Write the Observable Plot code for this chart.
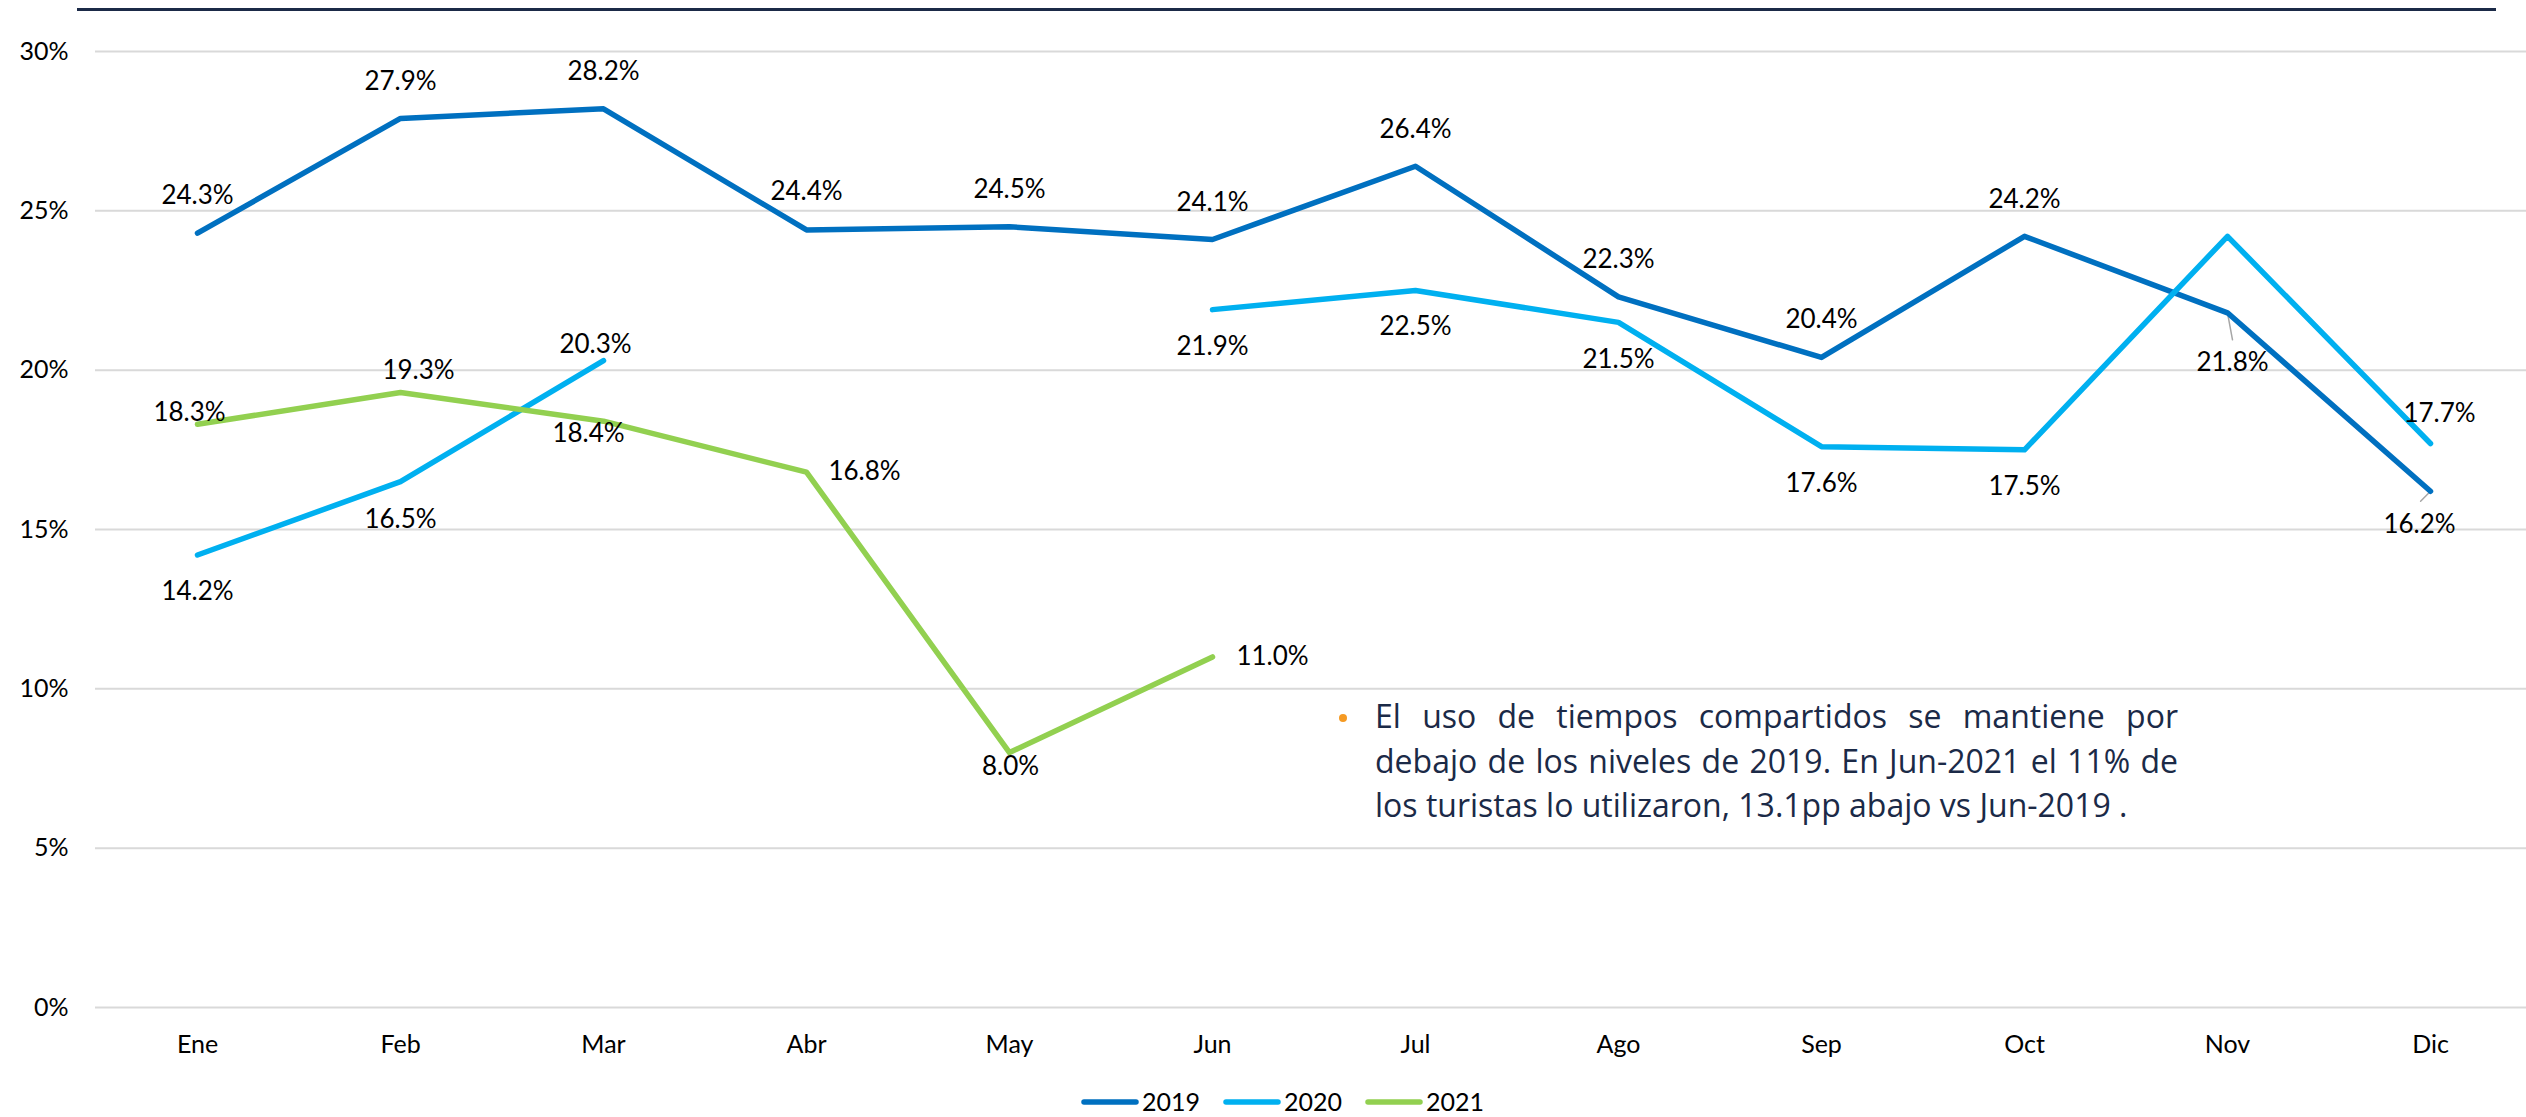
<!DOCTYPE html>
<html>
<head>
<meta charset="utf-8">
<script src="https://cdn.jsdelivr.net/npm/d3@7"></script>
<script src="https://cdn.jsdelivr.net/npm/@observablehq/plot@0.6"></script>
<style>
  html, body { margin: 0; padding: 0; background: #fff; }
  #wrap { position: relative; width: 2526px; height: 1117px; overflow: hidden; font-family: Lato, sans-serif; }
  #topline { position: absolute; left: 77px; top: 8px; width: 2419px; height: 3px; background: #1b2a47; }
  #chart { position: absolute; left: 0; top: 0; }
  #note { position: absolute; left: 1375px; top: 694px; width: 803px; font-family: "Open Sans", sans-serif; font-size: 32px; line-height: 44.5px; color: #1b2a47; }
  #note .j { text-align: justify; text-align-last: justify; }
  #bullet { position: absolute; left: 1339px; top: 714px; width: 8px; height: 8px; border-radius: 50%; background: #F59A23; }
  #legend { position: absolute; left: 0; top: 1080px; }
</style>
</head>
<body>
<div id="wrap">
  <div id="topline"></div>
  <div id="chart"></div>
  <div id="bullet"></div>
  <div id="note"></div>
  <svg id="legend" width="2526" height="37"></svg>
</div>
<script>
// ---- data ----
const months = ["Ene","Feb","Mar","Abr","May","Jun","Jul","Ago","Sep","Oct","Nov","Dic"];
const years = ["2019","2020","2021"];
const values2019 = [24.3, 27.9, 28.2, 24.4, 24.5, 24.1, 26.4, 22.3, 20.4, 24.2, 21.8, 16.2];
const values2020 = [14.2, 16.5, 20.3, null, null, 21.9, 22.5, 21.5, 17.6, 17.5, 24.2, 17.7];
const values2021 = [18.3, 19.3, 18.4, 16.8, 8.0, 11.0];
const yTicks = [0, 5, 10, 15, 20, 25, 30];
const colors = ["#0070C0", "#00B0F0", "#92D050"];
const noteLines = [
  "El uso de tiempos compartidos se mantiene por",
  "debajo de los niveles de 2019. En Jun-2021 el 11% de",
  "los turistas lo utilizaron, 13.1pp abajo vs Jun-2019 ."
];

// ---- label placement (pixel offsets of label centre from its point; null = no label) ----
const labelOffsets2019 = [[0,-37],[0,-37],[0,-37],[0,-38],[0,-37],[0,-37],[0,-37],[0,-37],[0,-38],[0,-37],[5,50],[-11,33]];
const labelOffsets2020 = [[0,37],[0,38],[-8,-16],null,null,[0,37],[0,36],[0,37],[0,37],[0,37],null,[9,-30]];
const labelOffsets2021 = [[-8,-12],[18,-22],[-15,13],[58,0],[1,14],[60,0]];
// leader lines: [seriesIndex, monthIndex, length px, rotate deg]
const leaders = [[0, 10, 27.5, 169.5], [0, 11, 14, 225]];

const seriesValues = [values2019, values2020, values2021];
const seriesOffsets = [labelOffsets2019, labelOffsets2020, labelOffsets2021];

const rows = [];
seriesValues.forEach((vals, i) => vals.forEach((v, j) => {
  rows.push({year: years[i], month: months[j], value: v, off: seriesOffsets[i][j]});
}));
const labeled = rows.filter(d => d.value != null && d.off);
const leaderRows = leaders.map(([s, m, len, rot]) => ({month: months[m], value: seriesValues[s][m], len, rot}));

const labelMarks = labeled.map(d => Plot.text([d], {
  x: "month", y: "value",
  text: r => r.value.toFixed(1) + "%",
  dx: d.off[0], dy: d.off[1],
  fill: "#000", fontSize: 26, textAnchor: "middle", lineAnchor: "middle"
}));

const leaderMarks = leaderRows.map(d => Plot.vector([d], {
  x: "month", y: "value", length: d.len, rotate: d.rot, anchor: "start",
  shape: {draw(context, l) { context.moveTo(0, 0); context.lineTo(0, -l); }},
  stroke: "#a6a6a6", strokeWidth: 1.5
}));

const chart = Plot.plot({
  width: 2526,
  height: 1080,
  marginTop: 51,
  marginBottom: 73,
  marginLeft: 95,
  marginRight: 0,
  style: {fontFamily: "Lato, sans-serif", fontSize: "25px", color: "#000", background: "transparent"},
  x: {type: "point", domain: months, range: [95, 2531], padding: 0.5, label: null},
  y: {domain: [0, 30], range: [1007, 51], label: null},
  color: {domain: years, range: colors},
  marks: [
    Plot.gridY(yTicks, {stroke: "#d9d9d9", strokeOpacity: 1, strokeWidth: 2}),
    Plot.axisY(yTicks, {tickSize: 0, tickPadding: 27, tickFormat: d => d + "%", fontSize: 25, fill: "#000", label: null}),
    Plot.axisX(months, {tickSize: 0, tickPadding: 28, fontSize: 25, fill: "#000", label: null}),
    ...leaderMarks,
    Plot.line(rows, {x: "month", y: "value", z: "year", stroke: "year", strokeWidth: 5.5, strokeLinecap: "round", strokeLinejoin: "round"}),
    ...labelMarks
  ]
});
document.getElementById("chart").appendChild(chart);

// ---- annotation ----
const note = document.getElementById("note");
noteLines.forEach((t, i) => {
  const div = document.createElement("div");
  div.textContent = t;
  if (i < noteLines.length - 1) div.className = "j";
  note.appendChild(div);
});

// ---- legend ----
const leg = d3.select("#legend");
years.forEach((y, i) => {
  const x0 = 1082 + 142 * i;
  leg.append("line").attr("x1", x0 + 2).attr("x2", x0 + 54).attr("y1", 22).attr("y2", 22)
    .attr("stroke", colors[i]).attr("stroke-width", 5.5).attr("stroke-linecap", "round");
  leg.append("text").attr("x", x0 + 60).attr("y", 22).attr("dy", "0.35em")
    .attr("font-family", "Lato, sans-serif").attr("font-size", 25).attr("fill", "#000").text(y);
});
</script>
</body>
</html>
